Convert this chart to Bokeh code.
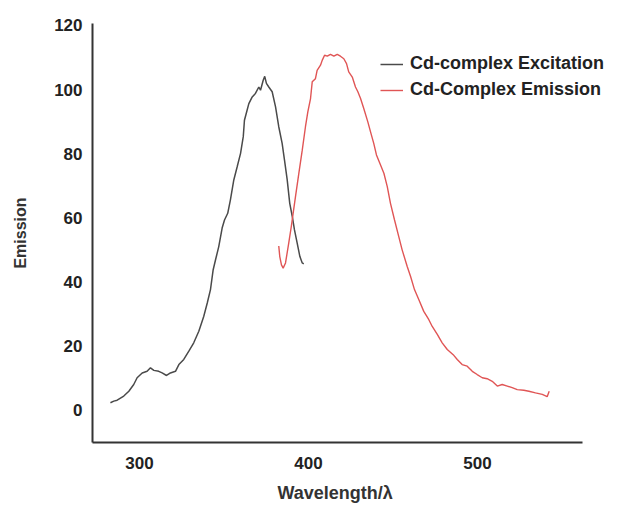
from bokeh.plotting import figure
from bokeh.models import Range1d, Legend, LegendItem, FixedTicker, Title
from bokeh.embed import file_html
from bokeh.resources import INLINE

# Cd-complex excitation spectrum (wavelength nm, intensity)
exc_wl = [282.8, 284.8, 286.8, 290.7, 293.7, 296.6, 298.6, 301.6, 304.5, 306.5,
          308.5, 311.4, 313.4, 316.0, 318.3, 321.3, 323.3, 326.2, 329.2, 332.1,
          335.1, 338.0, 340.1, 342.0, 343.6, 345.0, 346.9, 348.9, 350.3, 352.2,
          353.8, 355.8, 357.8, 359.8, 361.4, 362.1, 363.7, 364.7, 366.7, 368.6,
          370.6, 371.6, 373.2, 374.1, 375.1, 376.5, 378.5, 380.5, 382.4, 384.4,
          385.8, 387.4, 388.9, 390.4, 391.7, 393.3, 394.9, 396.3, 397.2]
exc_int = [2.3, 2.8, 3.1, 4.4, 5.9, 8.0, 10.1, 11.6, 12.1, 13.2,
           12.4, 12.1, 11.6, 10.8, 11.6, 12.1, 14.2, 15.8, 18.4, 21.0,
           24.6, 29.2, 33.4, 37.6, 43.8, 46.9, 51.0, 56.8, 59.3, 61.4,
           65.6, 71.8, 75.9, 80.1, 85.3, 90.4, 93.6, 95.6, 97.7, 98.8,
           100.8, 99.8, 102.9, 104.1, 101.9, 100.8, 99.3, 94.6, 88.4, 83.2,
           78.0, 71.8, 64.5, 60.4, 56.2, 52.1, 47.9, 45.9, 45.6]

# Cd-complex emission spectrum (wavelength nm, intensity)
em_wl = [382.4, 383.0, 384.0, 385.0, 386.4, 388.3, 389.8, 390.9, 392.3, 394.3,
         396.3, 398.2, 399.6, 401.2, 402.2, 404.1, 405.1, 407.1, 408.1, 409.5,
         411.1, 413.0, 415.0, 417.0, 418.9, 420.9, 422.5, 423.8, 425.9, 427.8,
         429.2, 430.8, 432.7, 435.1, 436.7, 438.6, 440.2, 442.2, 444.6, 446.6,
         448.5, 450.9, 453.4, 455.4, 458.4, 460.4, 462.7, 465.3, 468.2, 471.2,
         473.2, 476.2, 479.1, 482.1, 485.6, 488.0, 490.9, 493.9, 496.9, 499.8,
         502.8, 505.7, 508.7, 511.7, 514.6, 517.6, 520.5, 523.5, 527.4, 530.4,
         534.3, 538.3, 541.2, 542.4]
em_int = [51.2, 47.9, 45.3, 44.3, 45.9, 52.1, 57.2, 61.4, 66.6, 73.9,
          81.1, 88.4, 93.0, 97.2, 102.4, 103.4, 106.0, 107.6, 109.1, 110.7,
          110.4, 111.0, 110.4, 111.0, 110.4, 109.6, 108.1, 105.5, 103.9, 100.8,
          99.3, 97.2, 94.1, 89.9, 86.8, 83.2, 79.6, 77.0, 73.9, 69.7,
          64.5, 59.3, 54.1, 50.0, 44.8, 41.7, 37.6, 34.4, 30.8, 28.2,
          26.1, 23.6, 21.0, 18.9, 17.3, 15.8, 14.2, 13.7, 12.1, 11.1,
          10.1, 9.8, 9.0, 7.5, 8.0, 7.5, 7.0, 6.4, 6.2, 5.9,
          5.4, 4.9, 4.2, 5.9]

x_ticks = [300, 400, 500]
y_ticks = [0, 20, 40, 60, 80, 100, 120]

p = figure(width=619, height=513, output_backend="svg", toolbar_location=None,
           x_range=Range1d(272.2, 584.0), y_range=Range1d(-10.1, 120.6),
           min_border_left=92, min_border_right=0, min_border_top=23,
           min_border_bottom=71)
p.background_fill_color = "white"
p.border_fill_color = "white"
p.outline_line_color = None
p.xgrid.visible = False
p.ygrid.visible = False

r1 = p.line(exc_wl, exc_int, line_color="#4a4a4a", line_width=1.5)
r2 = p.line(em_wl, em_int, line_color="#e05555", line_width=1.4)

for ax in (p.xaxis[0], p.yaxis[0]):
    ax.axis_line_color = "#333333"
    ax.axis_line_width = 2
    ax.major_tick_line_color = None
    ax.minor_tick_line_color = None
    ax.major_label_text_font = "Liberation Sans"
    ax.major_label_text_font_style = "bold"
    ax.major_label_text_font_size = "17px"
    ax.major_label_text_color = "#222222"
    ax.axis_label_text_font = "Liberation Sans"
    ax.axis_label_text_font_style = "bold"
    ax.axis_label_text_color = "#333333"

p.xaxis.ticker = FixedTicker(ticks=x_ticks)
p.yaxis.ticker = FixedTicker(ticks=y_ticks)
p.xaxis.bounds = (272.2, 562.0)
p.xaxis.major_label_standoff = 8
p.yaxis.major_label_standoff = 4
p.yaxis.axis_label = "Emission"
p.yaxis.axis_label_text_font_size = "16px"
p.yaxis.axis_label_standoff = 22

# x-axis title, centred under the drawn axis line rather than the whole frame
xtitle = Title(text="Wavelength/λ", align="left", offset=185, standoff=19,
               vertical_align="bottom", text_font="Liberation Sans",
               text_font_style="bold", text_font_size="18px", text_color="#333333")
p.add_layout(xtitle, "below")

legend = Legend(items=[LegendItem(label="Cd-complex Excitation", renderers=[r1]),
                       LegendItem(label="Cd-Complex Emission", renderers=[r2])],
                location=(288, 342), border_line_alpha=0, background_fill_alpha=0,
                padding=0, margin=0, spacing=5, glyph_width=23, glyph_height=20,
                label_height=20, label_standoff=7,
                label_text_font="Liberation Sans", label_text_font_style="bold",
                label_text_font_size="18px", label_text_color="#222222")
p.add_layout(legend, "center")

open("out.html", "w").write(file_html(p, INLINE))
